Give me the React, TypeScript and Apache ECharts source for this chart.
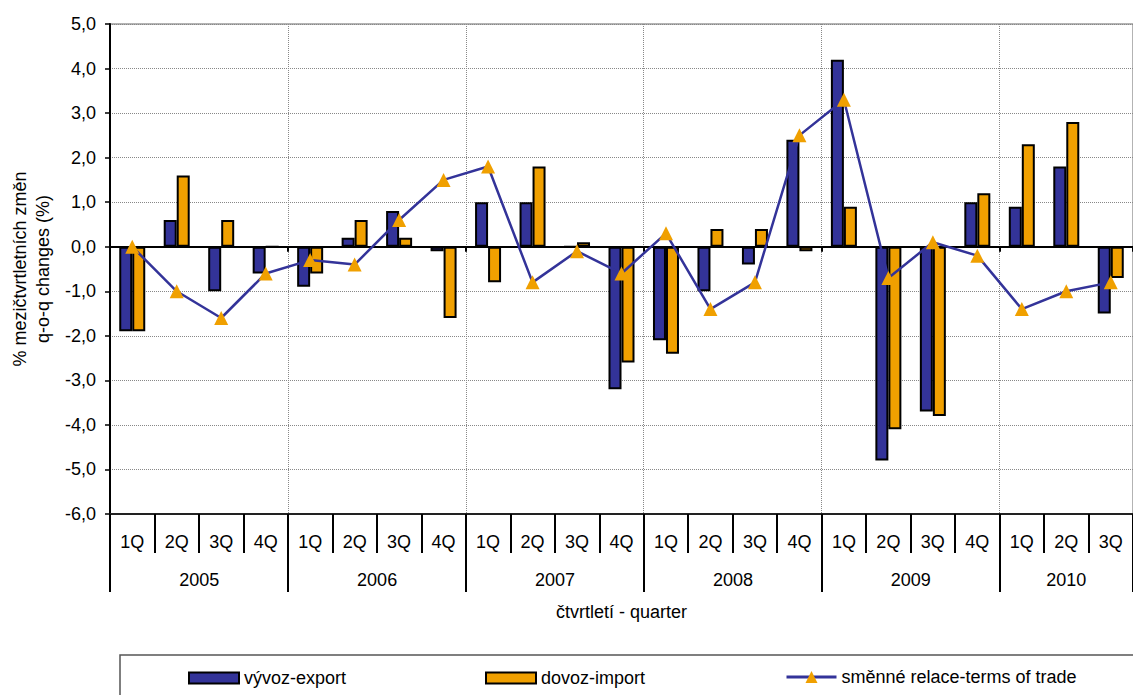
import React, { useEffect, useRef } from 'react';
import * as echarts from 'echarts';

const FONT = 'Arial, "Liberation Sans", sans-serif';

const years = ['2005', '2006', '2007', '2008', '2009', '2010'];
const quartersPerYear = [4, 4, 4, 4, 4, 3];
const quarterNames = ['1Q', '2Q', '3Q', '4Q'];

const exportValues = [
  -1.9, 0.6, -1.0, -0.6,
  -0.9, 0.2, 0.8, -0.1,
  1.0, 1.0, 0.0, -3.2,
  -2.1, -1.0, -0.4, 2.4,
  4.2, -4.8, -3.7, 1.0,
  0.9, 1.8, -1.5,
];
const importValues = [
  -1.9, 1.6, 0.6, 0.0,
  -0.6, 0.6, 0.2, -1.6,
  -0.8, 1.8, 0.1, -2.6,
  -2.4, 0.4, 0.4, -0.1,
  0.9, -4.1, -3.8, 1.2,
  2.3, 2.8, -0.7,
];
const termsOfTrade = [
  0.0, -1.0, -1.6, -0.6,
  -0.3, -0.4, 0.6, 1.5,
  1.8, -0.8, -0.1, -0.6,
  0.3, -1.4, -0.8, 2.5,
  3.3, -0.7, 0.1, -0.2,
  -1.4, -1.0, -0.8,
];

const seriesNames = ['vývoz-export', 'dovoz-import', 'směnné relace-terms of trade'];
const yAxisTitle = '% mezičtvrtletních změn\nq-o-q changes (%)';
const xAxisTitle = 'čtvrtletí - quarter';

export default function App() {
  const ref = useRef<HTMLDivElement>(null);

  useEffect(() => {
    const chart = echarts.init(ref.current!, null, { renderer: 'svg' });

    const quarterData: string[] = [];
    const yearData: any[] = [];
    const yearStarts = new Set<number>();
    const yearLabelAt = new Map<number, string>();
    let idx = 0;
    years.forEach((y, yi) => {
      const n = quartersPerYear[yi];
      yearStarts.add(idx);
      const mid = (n - 1) / 2;
      const labelIdx = Math.floor(mid);
      const half = mid - labelIdx > 0;
      for (let q = 0; q < n; q++) {
        quarterData.push(quarterNames[q]);
        const key = y + ' ' + quarterNames[q];
        if (q === labelIdx) {
          yearLabelAt.set(idx, y);
          yearData.push(half ? { value: key, textStyle: { padding: [0, 0, 0, 45] } } : key);
        } else {
          yearData.push(key);
        }
        idx++;
      }
    });
    const isYearStart = (i: number) => yearStarts.has(i);

    const option: any = {
      animation: false,
      textStyle: { fontFamily: FONT },
      grid: {
        left: 110, top: 24, right: -9, bottom: 181,
        show: true, borderColor: '#666', borderWidth: 1, backgroundColor: 'transparent',
      },
      graphic: [
        {
          type: 'rect',
          shape: { x: 120, y: 655, width: 1100, height: 60 },
          style: { fill: 'none', stroke: '#555', lineWidth: 1.5 },
          silent: true,
        },
      ],
      legend: [
        {
          data: [seriesNames[0]], left: 188, top: 669, padding: 0,
          itemWidth: 50, itemHeight: 11, icon: 'rect', selectedMode: false,
          textStyle: { fontSize: 18, color: '#000', fontFamily: FONT },
        },
        {
          data: [seriesNames[1]], left: 485, top: 669, padding: 0,
          itemWidth: 50, itemHeight: 11, icon: 'rect', selectedMode: false,
          textStyle: { fontSize: 18, color: '#000', fontFamily: FONT },
        },
        {
          data: [seriesNames[2]], left: 785, top: 668, padding: 0,
          itemWidth: 50, itemHeight: 15, selectedMode: false,
          lineStyle: { width: 3 },
          textStyle: { fontSize: 18, color: '#000', fontFamily: FONT },
        },
      ],
      yAxis: {
        type: 'value',
        min: -6, max: 5, interval: 1,
        axisLine: { show: true, lineStyle: { color: '#000', width: 2 } },
        axisTick: { show: true, length: 5, lineStyle: { color: '#000', width: 1.5 } },
        axisLabel: {
          fontSize: 18, color: '#000', margin: 14, fontFamily: FONT,
          formatter: (v: number) => v.toFixed(1).replace('.', ','),
        },
        splitLine: { show: true, lineStyle: { color: '#888', type: 'dotted', width: 1 } },
        name: yAxisTitle,
        nameLocation: 'middle',
        nameRotate: 90,
        nameGap: 55,
        nameTextStyle: { fontSize: 18, color: '#000', lineHeight: 23, fontFamily: FONT },
      },
      xAxis: [
        {
          type: 'category',
          data: quarterData,
          position: 'bottom',
          axisLine: { onZero: false, lineStyle: { color: '#222', width: 2 } },
          axisTick: { show: true, interval: 0, length: 39, lineStyle: { color: '#000', width: 2 } },
          axisLabel: { interval: 0, fontSize: 18, color: '#000', margin: 19, fontFamily: FONT },
          splitLine: { show: false },
          name: xAxisTitle,
          nameLocation: 'middle',
          nameGap: 89,
          nameTextStyle: { fontSize: 18, color: '#000', fontFamily: FONT },
        },
        {
          type: 'category',
          data: yearData,
          position: 'bottom',
          axisLine: { show: false, onZero: false },
          axisTick: { show: true, interval: isYearStart, length: 78, lineStyle: { color: '#000', width: 2 } },
          axisLabel: {
            interval: 0, fontSize: 18, color: '#000', margin: 57, fontFamily: FONT,
            formatter: (_v: string, i: number) => yearLabelAt.get(i) ?? '',
          },
          splitLine: { show: true, interval: isYearStart, lineStyle: { color: '#888', type: 'dotted', width: 1 } },
        },
        {
          type: 'category',
          data: quarterData,
          position: 'bottom',
          axisLine: { show: true, onZero: true, lineStyle: { color: '#000', width: 2 } },
          axisTick: { show: true, interval: isYearStart, length: 5, lineStyle: { color: '#000', width: 2 } },
          axisLabel: { show: false },
          splitLine: { show: false },
        },
      ],
      series: [
        {
          name: seriesNames[0],
          type: 'bar',
          xAxisIndex: 0,
          data: exportValues,
          barWidth: 13,
          barGap: '0%',
          itemStyle: { color: '#333399', borderColor: '#000', borderWidth: 2 },
        },
        {
          name: seriesNames[1],
          type: 'bar',
          xAxisIndex: 0,
          data: importValues,
          barWidth: 13,
          barGap: '0%',
          itemStyle: { color: '#F0A000', borderColor: '#000', borderWidth: 2 },
        },
        {
          name: seriesNames[2],
          type: 'line',
          xAxisIndex: 0,
          data: termsOfTrade,
          symbol: 'triangle',
          symbolSize: 14,
          z: 5,
          itemStyle: { color: '#F0A000' },
          lineStyle: { color: '#333399', width: 2.5 },
        },
      ],
    };

    chart.setOption(option);
    return () => chart.dispose();
  }, []);

  return (
    <div
      ref={ref}
      style={{ position: 'absolute', left: 0, top: 0, width: 1133, height: 695 }}
    />
  );
}
